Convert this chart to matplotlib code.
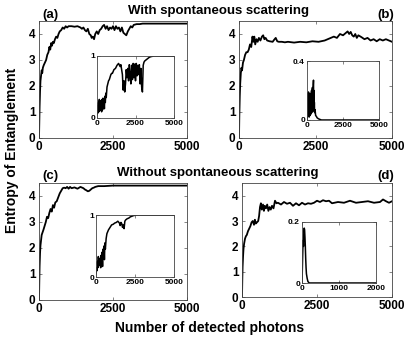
import matplotlib
matplotlib.use("Agg")
import matplotlib.pyplot as plt

plt.rcParams['font.family'] = ['Liberation Sans', 'DejaVu Sans']
plt.rcParams['font.weight'] = 'bold'

# (a) with spontaneous scattering
xa = [0, 10, 20, 35, 50, 70, 90, 110, 130, 160, 200, 240, 280, 320, 350, 380, 410, 440, 470, 500,
      540, 580, 620, 660, 700, 750, 800, 850, 900, 950, 1000, 1100, 1200, 1300, 1400, 1450, 1500,
      1550, 1600, 1650, 1700, 1750, 1780, 1820, 1860, 1900, 1950, 2000, 2050, 2100, 2150, 2200,
      2250, 2300, 2350, 2400, 2450, 2500, 2550, 2600, 2650, 2700, 2750, 2800, 2850, 2900, 2950,
      3000, 3050, 3100, 3150, 3200, 3300, 3400, 3500, 3700, 4000, 4500, 5000]
ya = [0, 0.6, 1.2, 1.8, 2.2, 2.4, 2.6, 2.5, 2.7, 2.8, 2.9, 3.0, 3.2, 3.3, 3.5, 3.4, 3.65, 3.55, 3.7, 3.65,
      3.8, 3.9, 3.85, 4.0, 4.1, 4.15, 4.25, 4.2, 4.3, 4.25, 4.3, 4.3, 4.28, 4.3, 4.25, 4.2, 4.25,
      4.15, 4.1, 4.2, 4.0, 3.95, 3.85, 3.9, 3.8, 4.0, 4.1, 4.0, 4.15, 4.2, 4.3, 4.35,
      4.2, 4.3, 4.15, 4.25, 4.2, 4.3, 4.15, 4.3, 4.2, 4.25, 4.1, 4.25, 4.05, 4.0, 3.95,
      4.1, 4.2, 4.3, 4.25, 4.35, 4.38, 4.38, 4.4, 4.4, 4.4, 4.4, 4.4]
xia = [0, 30, 60, 90, 120, 150, 180, 210, 240, 270, 300, 330, 360, 390, 420, 450, 480, 510, 540,
       570, 600, 650, 700, 750, 800, 850, 900, 950, 1000, 1100, 1200, 1300, 1400, 1500, 1550, 1600,
       1650, 1700, 1750, 1800, 1850, 1900, 1950, 2000, 2050, 2100, 2150, 2200, 2250, 2300, 2350,
       2400, 2450, 2500, 2550, 2600, 2650, 2700, 2750, 2800, 2850, 2900, 2950, 3000, 3050, 3100,
       3200, 3300, 3400, 3500, 3700, 4000, 4500, 5000]
yia = [0.05, 0.2, 0.08, 0.25, 0.1, 0.3, 0.12, 0.28, 0.15, 0.22, 0.1, 0.3, 0.13, 0.32, 0.2, 0.28,
       0.15, 0.35, 0.25, 0.4, 0.33, 0.5, 0.55, 0.6, 0.62, 0.66, 0.7, 0.72, 0.72, 0.78, 0.8, 0.85,
       0.88, 0.83, 0.86, 0.78, 0.7, 0.45, 0.6, 0.42, 0.55, 0.78, 0.65, 0.8, 0.6, 0.86, 0.7, 0.55,
       0.85, 0.62, 0.88, 0.65, 0.87, 0.6, 0.88, 0.68, 0.85, 0.7, 0.86, 0.55, 0.8, 0.5, 0.42, 0.85,
       0.9, 0.92, 0.94, 0.96, 0.98, 0.99, 1.0, 1.0, 1.0, 1.0]

# (b) with spontaneous scattering
xb = [0, 10, 25, 40, 60, 80, 100, 130, 160, 200, 240, 280, 320, 360, 400, 440, 470, 500, 530, 570,
      610, 650, 700, 750, 790, 830, 870, 920, 1000, 1100, 1150, 1200, 1250, 1300, 1400, 1500,
      1600, 1800, 2000, 2200, 2400, 2600, 2800, 2900, 3000, 3100, 3200, 3300, 3400, 3500, 3550,
      3600, 3650, 3700, 3750, 3800, 3850, 3900, 4000, 4100, 4200, 4300, 4400, 4500, 4600, 4700,
      4800, 4900, 5000]
yb = [0, 0.8, 1.6, 2.1, 2.5, 2.7, 2.6, 2.9, 3.0, 3.2, 3.3, 3.3, 3.4, 3.6, 3.5, 3.9, 3.7, 3.9, 3.6, 3.8,
      3.7, 3.85, 3.75, 3.9, 3.95, 3.8, 3.85, 3.75, 3.72, 3.7, 3.78, 3.85, 3.72, 3.7, 3.7, 3.68,
      3.7, 3.67, 3.7, 3.68, 3.72, 3.7, 3.75, 3.8, 3.85, 3.9, 3.85, 4.0, 3.95, 4.05, 4.1,
      4.0, 4.08, 3.95, 3.9, 4.0, 3.85, 3.95, 3.88, 3.8, 3.85, 3.75, 3.8, 3.72, 3.8, 3.75,
      3.8, 3.75, 3.7]
xib = [0, 15, 30, 45, 60, 75, 90, 105, 120, 135, 150, 165, 180, 195, 210, 225, 240, 255, 270, 285,
       300, 315, 330, 345, 360, 375, 390, 405, 420, 435, 450, 465, 480, 495, 510, 530, 560, 600,
       650, 700, 800, 900, 1000, 2000, 5000]
yib = [0, 0.15, 0.02, 0.18, 0.04, 0.16, 0.03, 0.19, 0.05, 0.14, 0.02, 0.17, 0.06, 0.15, 0.03, 0.18,
       0.05, 0.13, 0.04, 0.17, 0.06, 0.2, 0.05, 0.16, 0.08, 0.22, 0.06, 0.19, 0.1, 0.24, 0.27, 0.12,
       0.2, 0.06, 0.12, 0.05, 0.07, 0.03, 0.025, 0.015, 0.008, 0.004, 0.0, 0.0, 0.0]

# (c) without spontaneous scattering
xc = [0, 10, 20, 35, 50, 70, 90, 120, 150, 190, 230, 270, 310, 350, 390, 430, 470, 510, 550, 600,
      650, 700, 750, 800, 850, 900, 950, 1000, 1050, 1100, 1200, 1300, 1400, 1500, 1550, 1600,
      1650, 1700, 1750, 1800, 1850, 1900, 2000, 2200, 2500, 3000, 4000, 5000]
yc = [0, 0.7, 1.3, 1.8, 2.1, 2.3, 2.5, 2.6, 2.7, 2.85, 3.0, 3.2, 3.15, 3.35, 3.5, 3.4, 3.65, 3.55, 3.75, 3.8,
      3.95, 4.1, 4.2, 4.3, 4.32, 4.3, 4.35, 4.28, 4.35, 4.3, 4.33, 4.28, 4.35, 4.3, 4.25, 4.22,
      4.18, 4.2, 4.25, 4.3, 4.32, 4.35, 4.38, 4.38, 4.4, 4.4, 4.4, 4.4]
xic = [0, 30, 60, 90, 120, 150, 180, 210, 240, 270, 300, 330, 360, 390, 420, 450, 480, 510, 540,
       570, 600, 650, 700, 750, 800, 900, 1000, 1100, 1200, 1300, 1400, 1500, 1550, 1600, 1650,
       1700, 1750, 1800, 1850, 1900, 2000, 2100, 2200, 2400, 2600, 3000, 4000, 5000]
yic = [0.05, 0.15, 0.1, 0.25, 0.15, 0.33, 0.18, 0.3, 0.2, 0.28, 0.15, 0.35, 0.2, 0.4, 0.17, 0.45,
       0.3, 0.5, 0.28, 0.55, 0.45, 0.62, 0.7, 0.73, 0.76, 0.8, 0.84, 0.85, 0.87, 0.88, 0.9, 0.87,
       0.83, 0.88, 0.86, 0.8, 0.84, 0.78, 0.9, 0.92, 0.94, 0.95, 0.97, 0.99, 1.0, 1.0, 1.0, 1.0]

# (d) without spontaneous scattering
xd = [0, 10, 20, 35, 50, 70, 100, 130, 160, 200, 240, 280, 320, 360, 400, 430, 460, 500, 540, 570,
      600, 630, 660, 700, 730, 760, 800, 840, 880, 920, 960, 1000, 1050, 1100, 1150, 1200, 1300,
      1400, 1500, 1600, 1700, 1800, 1900, 2000, 2100, 2200, 2300, 2400, 2500, 2600, 2700, 2800,
      2900, 3000, 3200, 3400, 3600, 3800, 4000, 4200, 4400, 4600, 4700, 4800, 4900, 5000]
yd = [0, 0.7, 1.2, 1.6, 1.9, 2.1, 2.3, 2.4, 2.45, 2.6, 2.7, 2.8, 2.95, 3.0, 2.85, 3.05, 2.9, 2.95, 3.0, 3.2,
      3.55, 3.7, 3.45, 3.65, 3.4, 3.6, 3.5, 3.65, 3.4, 3.55, 3.45, 3.6, 3.5, 3.8, 3.7, 3.72, 3.65,
      3.75, 3.68, 3.72, 3.6, 3.7, 3.62, 3.72, 3.65, 3.7, 3.68, 3.72, 3.8, 3.75, 3.82, 3.78,
      3.8, 3.7, 3.75, 3.72, 3.8, 3.72, 3.75, 3.78, 3.72, 3.75, 3.85, 3.78, 3.72, 3.78]
xid = [0, 10, 20, 30, 40, 50, 60, 70, 80, 90, 100, 110, 120, 140, 160, 180, 200, 400, 1000, 2000]
yid = [0, 0.05, 0.1, 0.14, 0.12, 0.17, 0.18, 0.175, 0.15, 0.12, 0.08, 0.05, 0.03, 0.015, 0.005, 0.002,
       0.0, 0.0, 0.0, 0.0]

W, H = 409, 338
fig = plt.figure(figsize=(W / 100, H / 100), dpi=100)


def frac(x0, y0, x1, y1):
    return [x0 / W, 1 - y1 / H, (x1 - x0) / W, (y1 - y0) / H]


def style(ax, size, pad):
    ax.tick_params(direction='in', top=True, right=True, labelsize=size, length=2.5,
                   width=0.5, pad=pad, colors='#555555', labelcolor='black')
    for s in ax.spines.values():
        s.set_linewidth(0.6)
        s.set_color('#444444')


def main_panel(box, x, y):
    ax = fig.add_axes(frac(*box))
    ax.plot(x, y, color='black', lw=1.3)
    ax.set_xlim(0, 5000)
    ax.set_ylim(0, 4.5)
    ax.set_xticks([0, 2500, 5000])
    ax.set_yticks([0, 1, 2, 3, 4])
    style(ax, 8.5, 2.5)
    return ax


def inset(box, x, y, xmax, ymax, xt, yt, ylabels):
    ax = fig.add_axes(frac(*box))
    ax.plot(x, y, color='black', lw=1.1)
    ax.set_xlim(0, xmax)
    ax.set_ylim(0, ymax)
    ax.set_xticks(xt)
    ax.set_yticks(yt)
    ax.set_yticklabels(ylabels)
    style(ax, 6, 1.5)
    return ax


main_panel((39, 21, 187, 138), xa, ya)
main_panel((239, 21, 392, 138), xb, yb)
main_panel((39, 183, 187, 300), xc, yc)
main_panel((242, 183, 392, 297), xd, yd)

inset((97, 56, 174, 118), xia, yia, 5000, 1, [0, 2500, 5000], [0, 1], ['0', '1'])
inset((307, 61, 379, 120), xib, yib, 5000, 0.4, [0, 2500, 5000], [0, 0.4], ['0', '0.4'])
inset((96, 215, 174, 277), xic, yic, 5000, 1, [0, 2500, 5000], [0, 1], ['0', '1'])
inset((302, 222, 376, 283), xid, yid, 2000, 0.2, [0, 1000, 2000], [0, 0.2], ['0', '0.2'])

fig.text(219 / W, 1 - 11 / H, 'With spontaneous scattering', ha='center', va='center', fontsize=9.5)
fig.text(218 / W, 1 - 173 / H, 'Without spontaneous scattering', ha='center', va='center', fontsize=9.5)
fig.text(50 / W, 1 - 15 / H, '(a)', ha='center', va='center', fontsize=9.5)
fig.text(386 / W, 1 - 15 / H, '(b)', ha='center', va='center', fontsize=9.5)
fig.text(50 / W, 1 - 176 / H, '(c)', ha='center', va='center', fontsize=9.5)
fig.text(386 / W, 1 - 176 / H, '(d)', ha='center', va='center', fontsize=9.5)
fig.text(12 / W, 1 - 150 / H, 'Entropy of Entanglement', rotation=90, ha='center', va='center', fontsize=10)
fig.text(210 / W, 1 - 328 / H, 'Number of detected photons', ha='center', va='center', fontsize=10)

fig.savefig('out.png', dpi=100)
